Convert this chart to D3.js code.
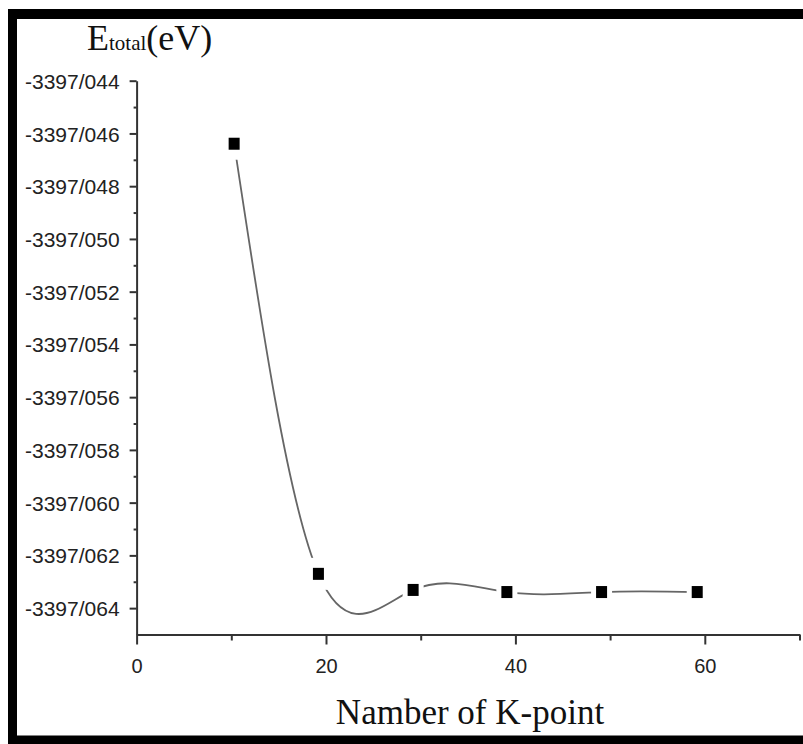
<!DOCTYPE html>
<html><head><meta charset="utf-8">
<script src="https://cdn.jsdelivr.net/npm/d3@7"></script>
<style>html,body{margin:0;padding:0;background:#fff;}svg{display:block;}</style>
</head><body>
<svg id="chart" width="803" height="744"></svg>
<script>
// Data
const kPoints = [10.3, 19.2, 29.2, 39.1, 49.1, 59.2];
const eTotal  = [-3397.04639, -3397.06270, -3397.06331, -3397.06339, -3397.06339, -3397.06339];
const xTickValues = [0, 20, 40, 60];
const xMinorValues = [10, 30, 50, 70];
const yTickValues = [-3397.044, -3397.046, -3397.048, -3397.050, -3397.052, -3397.054,
                     -3397.056, -3397.058, -3397.060, -3397.062, -3397.064];
const yMinorValues = [-3397.045, -3397.047, -3397.049, -3397.051, -3397.053, -3397.055,
                      -3397.057, -3397.059, -3397.061, -3397.063];

const svg = d3.select("#chart");
const x = d3.scaleLinear().domain([0, 70]).range([136.6, 799.5]);
const y = d3.scaleLinear().domain([-3397.065, -3397.044]).range([634.5, 80.7]);

// frame
const frame = svg.append("g").attr("stroke", "#000");
frame.append("line").attr("x1", 8).attr("x2", 803).attr("y1", 14).attr("y2", 14).attr("stroke-width", 10);
frame.append("line").attr("x1", 12.5).attr("x2", 12.5).attr("y1", 9).attr("y2", 744).attr("stroke-width", 9);
frame.append("line").attr("x1", 8).attr("x2", 803).attr("y1", 740).attr("y2", 740).attr("stroke-width", 9);

const axisColor = "#333";
const sansFont = "'Liberation Sans', Arial, sans-serif";
// X axis
const xAxis = d3.axisBottom(x).tickValues(xTickValues).tickSize(10).tickSizeOuter(0).tickFormat(d => String(d));
const gx = svg.append("g").attr("transform", `translate(0,${y(-3397.065)})`).call(xAxis);
gx.select(".domain").attr("stroke", axisColor).attr("stroke-width", 2);
gx.selectAll(".tick line").attr("stroke", axisColor).attr("stroke-width", 2);
gx.selectAll(".tick text").attr("font-family", sansFont)
  .attr("font-size", 20).attr("fill", "#222").attr("dy", null).attr("y", 38);
const gxm = svg.append("g").attr("transform", `translate(0,${y(-3397.065)})`)
  .call(d3.axisBottom(x).tickValues(xMinorValues).tickSize(6).tickSizeOuter(0).tickFormat(""));
gxm.select(".domain").remove();
gxm.selectAll(".tick line").attr("stroke", axisColor).attr("stroke-width", 2);

// Y axis
const fmtY = v => d3.format(".3f")(v).replace("\u2212", "-").replace(".", "/");
const yAxis = d3.axisLeft(y).tickValues(yTickValues).tickSize(7).tickSizeOuter(0).tickFormat(fmtY);
const gy = svg.append("g").attr("transform", `translate(${x(0)},0)`).call(yAxis);
gy.select(".domain").attr("stroke", axisColor).attr("stroke-width", 2);
gy.selectAll(".tick line").attr("stroke", axisColor).attr("stroke-width", 2);
gy.selectAll(".tick text").attr("font-family", sansFont)
  .attr("font-size", 21).attr("fill", "#222").attr("x", -17).attr("dy", "0.36em");
const gym = svg.append("g").attr("transform", `translate(${x(0)},0)`)
  .call(d3.axisLeft(y).tickValues(yMinorValues).tickSize(3).tickSizeOuter(0).tickFormat(""));
gym.select(".domain").remove();
gym.selectAll(".tick line").attr("stroke", axisColor).attr("stroke-width", 2);

// curve
const pts = kPoints.map((k, i) => [k, eTotal[i]]);
const line = d3.line().x(d => x(d[0])).y(d => y(d[1])).curve(d3.curveNatural);
svg.append("path").attr("d", line(pts)).attr("fill", "none").attr("stroke", "#666").attr("stroke-width", 1.8);

// halos (gap between line and symbol) + markers
svg.append("g").selectAll("rect").data(pts).join("rect")
  .attr("x", d => x(d[0]) - 10.5).attr("y", d => y(d[1]) - 16)
  .attr("width", 21).attr("height", 32).attr("fill", "#fff");
svg.append("g").selectAll("rect").data(pts).join("rect")
  .attr("x", d => x(d[0]) - 5.5).attr("y", d => y(d[1]) - 6)
  .attr("width", 11).attr("height", 12).attr("fill", "#000");

// titles
const serif = "'Liberation Serif', 'Times New Roman', serif";
const t = svg.append("text").attr("x", 87).attr("y", 50)
  .attr("font-family", serif).attr("fill", "#111");
t.append("tspan").attr("font-size", 36).text("E");
t.append("tspan").attr("font-size", 21).text("total");
t.append("tspan").attr("font-size", 36).text("(eV)");

svg.append("text").attr("x", 470).attr("y", 724).attr("text-anchor", "middle")
  .attr("font-family", serif).attr("font-size", 35)
  .attr("fill", "#111").text("Namber of K-point");
</script>
</body></html>
